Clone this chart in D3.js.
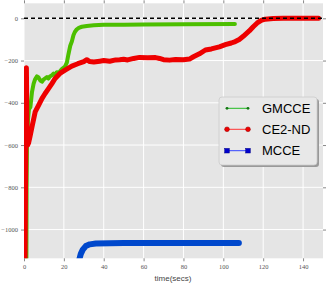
<!DOCTYPE html>
<html>
<head>
<meta charset="utf-8">
<script src="https://cdn.jsdelivr.net/npm/d3@7"></script>
<style>
  body { margin: 0; background: #fff; }
  svg { display: block; }
</style>
</head>
<body>
<div id="chart"></div>
<script>
// series (time in secs, value)
const gmcceT = [1.2, 1.3, 1.5, 2, 2.5, 3.2, 4, 4.8, 5.5, 6.5, 7.3, 8.2, 9, 9.8, 10.5, 11.5, 12.3, 13, 14, 14.8, 15.6, 16.5, 17.5, 19, 20.6, 21.5, 22.3, 23.2, 24, 24.8, 25.5, 26.5, 27.5, 29, 31.5, 35, 40, 50, 60, 80, 105.8];
const gmcceV = [-1150, -800, -600, -480, -430, -420, -350, -310, -290, -275, -280, -295, -300, -290, -285, -278, -285, -275, -270, -262, -268, -255, -258, -240, -228, -210, -170, -130, -110, -80, -65, -52, -45, -40, -36, -33, -31, -30, -29, -28, -27];

const ce2T = [0.5, 1.2, 1.5, 1.8, 2.3, 3, 4, 5.6, 7.3, 9, 10.6, 12.3, 14, 15.6, 18, 20.6, 24, 27, 30, 31.5, 33, 35, 38, 40, 43, 46, 48, 50, 52, 55, 58, 62, 66, 68, 70, 73, 76, 80, 83, 85, 88, 91, 94, 98, 101, 104, 106, 108, 110, 113, 115, 117, 119, 121, 125, 130, 147.8];
const ce2V = [-1150, -234, -560, -600, -590, -560, -515, -443, -412, -380, -356, -333, -309, -285, -261, -245, -226, -215, -205, -196, -205, -207, -203, -200, -203, -197, -196, -194, -197, -190, -185, -187, -186, -190, -196, -198, -195, -196, -193, -182, -168, -150, -145, -135, -125, -117, -110, -100, -85, -60, -40, -22, -10, -4, -1, 0, 0];

const mcceT = [27.5, 28.5, 29.5, 31, 33, 36, 50, 80, 107.8];
const mcceV = [-1150, -1115, -1095, -1078, -1070, -1066, -1064, -1064, -1064];

const xTicks = [0, 20, 40, 60, 80, 100, 120, 140];
const yTicks = [0, -200, -400, -600, -800, -1000];
const seriesNames = ['GMCCE', 'CE2-ND', 'MCCE'];

const W = 327, H = 284;
const pL = 24, pR = 323, pT = 3.3, pB = 258.3;

const svg = d3.select('#chart').append('svg')
    .attr('width', W)
    .attr('height', H);

const x = d3.scaleLinear().domain([0, 150]).range([pL, pR]);
const y = d3.scaleLinear().domain([-1136, 71]).range([pB, pT]);

// background
svg.append('rect')
    .attr('x', pL).attr('y', pT)
    .attr('width', pR - pL).attr('height', pB - pT)
    .attr('fill', '#e5e5e5');

// grid
svg.append('g').selectAll('line')
    .data(xTicks)
    .enter().append('line')
    .attr('x1', d => x(d)).attr('x2', d => x(d))
    .attr('y1', pT).attr('y2', pB)
    .attr('stroke', '#fff').attr('stroke-width', 1);

svg.append('g').selectAll('line')
    .data(yTicks)
    .enter().append('line')
    .attr('x1', pL).attr('x2', pR)
    .attr('y1', d => y(d)).attr('y2', d => y(d))
    .attr('stroke', '#fff').attr('stroke-width', 1);

// axes: outward ticks on all four sides, no domain line
function styleAxis(g) {
    g.select('.domain').remove();
    g.selectAll('line').attr('stroke', '#888');
    g.selectAll('text')
        .attr('fill', '#555')
        .attr('font-family', '"Liberation Serif", "DejaVu Serif", serif')
        .attr('font-size', '6.5px');
}

svg.append('g')
    .attr('transform', `translate(0,${pB})`)
    .call(d3.axisBottom(x).tickValues(xTicks).tickSize(3).tickPadding(3))
    .call(styleAxis);

svg.append('g')
    .attr('transform', `translate(0,${pT})`)
    .call(d3.axisTop(x).tickValues(xTicks).tickSize(3).tickFormat(''))
    .call(styleAxis);

svg.append('g')
    .attr('transform', `translate(${pL},0)`)
    .call(d3.axisLeft(y).tickValues(yTicks).tickSize(3).tickPadding(3).tickFormat(d => d < 0 ? '\u2212' + (-d) : d))
    .call(styleAxis);

svg.append('g')
    .attr('transform', `translate(${pR},0)`)
    .call(d3.axisRight(y).tickValues(yTicks).tickSize(3).tickFormat(''))
    .call(styleAxis);

// clip for data
svg.append('clipPath').attr('id', 'plotclip')
    .append('rect')
    .attr('x', pL).attr('y', pT)
    .attr('width', pR - pL).attr('height', pB - pT);

const plot = svg.append('g').attr('clip-path', 'url(#plotclip)');

const line = d3.line()
    .x(d => x(d[0]))
    .y(d => y(d[1]));

const series = [
    { t: gmcceT, v: gmcceV, color: '#4cbf00', width: 4 },
    { t: ce2T, v: ce2V, color: '#ee0000', width: 5 },
    { t: mcceT, v: mcceV, color: '#0048cc', width: 6 }
];

series.forEach(function(s) {
    const pts = s.t.map((t, i) => [t, s.v[i]]);
    plot.append('path')
        .datum(pts)
        .attr('d', line)
        .attr('fill', 'none')
        .attr('stroke', s.color)
        .attr('stroke-width', s.width)
        .attr('stroke-linejoin', 'round')
        .attr('stroke-linecap', 'round');
});

// reference line at 0, drawn over the series
plot.append('line')
    .attr('x1', x(0)).attr('x2', x(150))
    .attr('y1', y(0)).attr('y2', y(0))
    .attr('stroke', '#000')
    .attr('stroke-width', 1.5)
    .attr('stroke-dasharray', '4,3');

// legend
const lg = svg.append('g');
lg.append('rect')
    .attr('x', 221).attr('y', 99)
    .attr('width', 98).attr('height', 68)
    .attr('rx', 3)
    .attr('fill', '#999');
lg.append('rect')
    .attr('x', 219).attr('y', 97)
    .attr('width', 98).attr('height', 68)
    .attr('rx', 3)
    .attr('fill', '#e8e8e8')
    .attr('stroke', '#ccc')
    .attr('stroke-width', 0.8);

const legendLine = ['#22bb22', '#ff3333', '#3344ff'];
const legendMark = ['#117711', '#ee0000', '#0000cc'];
const legendY = [108.3, 129.3, 150.7];

seriesNames.forEach(function(name, i) {
    const gy = legendY[i];
    lg.append('line')
        .attr('x1', 227).attr('x2', 248)
        .attr('y1', gy).attr('y2', gy)
        .attr('stroke', legendLine[i])
        .attr('stroke-width', 1);
    [227, 248].forEach(function(mx) {
        if (i === 0) {
            lg.append('circle').attr('cx', mx).attr('cy', gy).attr('r', 1.4).attr('fill', legendMark[i]);
        } else if (i === 1) {
            lg.append('circle').attr('cx', mx).attr('cy', gy).attr('r', 2.4)
                .attr('fill', legendMark[i]).attr('stroke', '#990000').attr('stroke-width', 0.5);
        } else {
            lg.append('rect').attr('x', mx - 2.3).attr('y', gy - 2.3).attr('width', 4.6).attr('height', 4.6)
                .attr('fill', legendMark[i]).attr('stroke', '#000088').attr('stroke-width', 0.5);
        }
    });
    lg.append('text')
        .attr('x', 262)
        .attr('y', gy + 4.6)
        .attr('font-family', '"Liberation Sans", Arial, sans-serif')
        .attr('font-size', '13px')
        .attr('fill', '#000')
        .text(name);
});

// x axis label
svg.append('text')
    .attr('x', 173)
    .attr('y', 281)
    .attr('text-anchor', 'middle')
    .attr('font-family', '"Liberation Sans", Arial, sans-serif')
    .attr('font-size', '8px')
    .attr('fill', '#444')
    .text('time(secs)');
</script>
</body>
</html>
